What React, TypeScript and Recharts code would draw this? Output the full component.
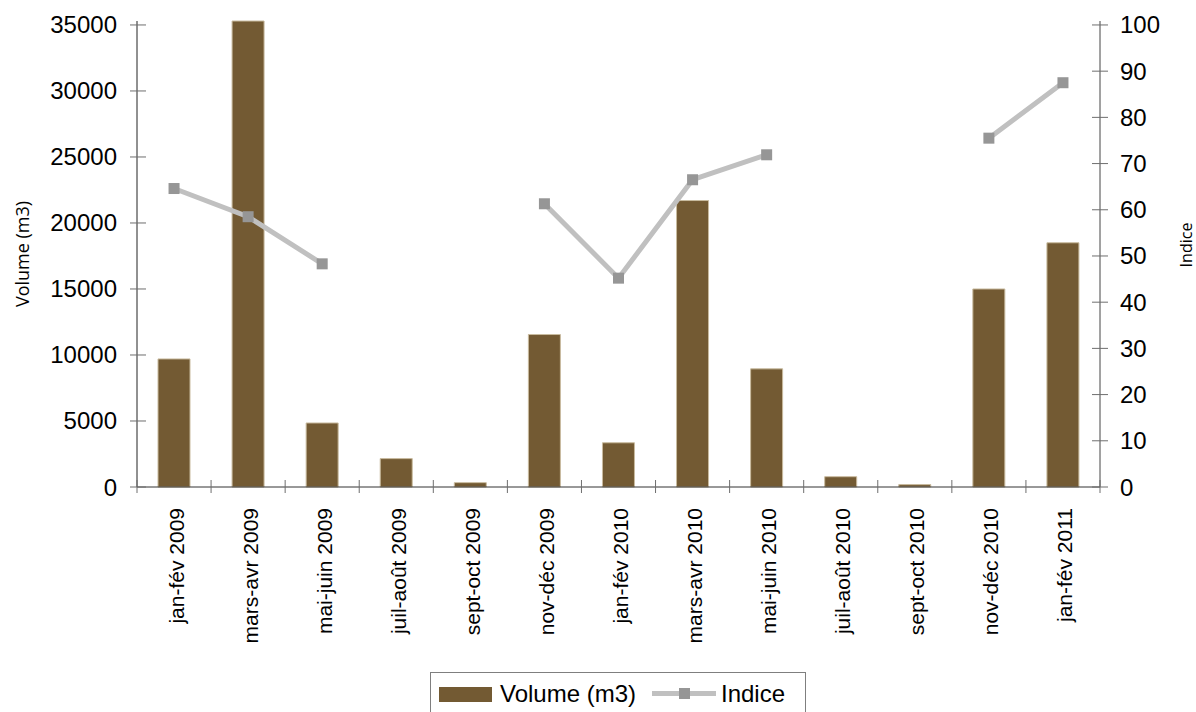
import React from 'react';
import { ComposedChart, Bar, Line, XAxis, YAxis, Legend } from 'recharts';

const categories = [
  'jan-fév 2009', 'mars-avr 2009', 'mai-juin 2009', 'juil-août 2009', 'sept-oct 2009',
  'nov-déc 2009', 'jan-fév 2010', 'mars-avr 2010', 'mai-juin 2010', 'juil-août 2010',
  'sept-oct 2010', 'nov-déc 2010', 'jan-fév 2011',
];
const volume = [9700, 35300, 4850, 2150, 330, 11550, 3350, 21700, 8950, 780, 180, 15000, 18500];
const indice: (number | null)[] = [64.6, 58.5, 48.3, null, null, 61.3, 45.2, 66.5, 71.9, null, null, 75.5, 87.5];
const volumeTicks = [0, 5000, 10000, 15000, 20000, 25000, 30000, 35000];
const indiceTicks = [0, 10, 20, 30, 40, 50, 60, 70, 80, 90, 100];

const VOLUME_NAME = 'Volume (m3)';
const INDICE_NAME = 'Indice';
const VOLUME_MAX = 35300;
const VOLUME_TOP_TICK = 35000;
const INDICE_MAX = (100 * VOLUME_MAX) / VOLUME_TOP_TICK;

const BAR_COLOR = '#735A33';
const LINE_COLOR = '#C0C0C0';
const MARKER_COLOR = '#969696';
const FONT = '"Liberation Sans", Arial, sans-serif';

const data = categories.map((c, i) => ({ cat: c, volume: volume[i], indice: indice[i] }));

const LeftTick = (props: any) => {
  const { x, y, payload } = props;
  return (
    <g>
      <line x1={x - 7} x2={x + 9} y1={y} y2={y} stroke="#6e6e6e" strokeWidth={1} />
      <text x={x - 20} y={y} textAnchor="end" dominantBaseline="central" fontSize={24} fontFamily={FONT} fill="#000">
        {payload.value}
      </text>
    </g>
  );
};

const RightTick = (props: any) => {
  const { x, y, payload } = props;
  return (
    <g>
      <line x1={x - 8} x2={x + 8} y1={y} y2={y} stroke="#6e6e6e" strokeWidth={1} />
      <text x={x + 20} y={y} textAnchor="start" dominantBaseline="central" fontSize={24} fontFamily={FONT} fill="#000">
        {payload.value}
      </text>
    </g>
  );
};

const XTick = (props: any) => {
  const { x, y, payload, index, width, visibleTicksCount } = props;
  const count = visibleTicksCount || categories.length;
  const band = (width || 963) / count;
  return (
    <g>
      <line x1={x - band / 2} x2={x - band / 2} y1={y - 7} y2={y + 6} stroke="#6e6e6e" strokeWidth={1} />
      {index === count - 1 && (
        <line x1={x + band / 2} x2={x + band / 2} y1={y - 7} y2={y + 6} stroke="#6e6e6e" strokeWidth={1} />
      )}
      <text
        transform={`translate(${x + 2},${y + 21}) rotate(-90)`}
        textAnchor="end"
        dominantBaseline="central"
        fontSize={21}
        fontFamily={FONT}
        fill="#000"
      >
        {payload.value}
      </text>
    </g>
  );
};

const SquareDot = (props: any) => {
  const { cx, cy, index, value } = props;
  if (value == null || cy == null || isNaN(cy)) return <g key={`d-${index}`} />;
  return <rect key={`d-${index}`} x={cx - 5.5} y={cy - 5.5} width={11} height={11} fill={MARKER_COLOR} />;
};

const LeftLabel = (props: any) => {
  const vb = props.viewBox || {};
  const cx = (vb.x || 0) + 22;
  const cy = (vb.y || 0) + (vb.height || 0) / 2;
  return (
    <text
      transform={`translate(${cx},${cy}) rotate(-90)`}
      textAnchor="middle"
      dominantBaseline="central"
      fontSize={18}
      fontFamily='"Open Sans", sans-serif'
      fill="#000"
    >
      {VOLUME_NAME}
    </text>
  );
};

const RightLabel = (props: any) => {
  const vb = props.viewBox || {};
  const cx = (vb.x || 0) + 86;
  const cy = (vb.y || 0) + (vb.height || 0) / 2 - 9;
  return (
    <text
      transform={`translate(${cx},${cy}) rotate(-90)`}
      textAnchor="middle"
      dominantBaseline="central"
      fontSize={16}
      fontFamily='"Open Sans", sans-serif'
      fill="#000"
    >
      {INDICE_NAME}
    </text>
  );
};

const renderLegend = () => (
  <div style={{ width: 376, height: 46, border: '1px solid #7f7f7f', boxSizing: 'border-box', background: '#fff' }}>
    <svg width={374} height={44} style={{ display: 'block' }}>
      <rect x={8} y={14} width={53} height={15} fill={BAR_COLOR} />
      <text x={69} y={29} fontSize={24} fontFamily={FONT} fill="#000">{VOLUME_NAME}</text>
      <line x1={221} x2={285} y1={20.5} y2={20.5} stroke={LINE_COLOR} strokeWidth={5} />
      <rect x={248} y={15} width={11} height={11} fill={MARKER_COLOR} />
      <text x={290} y={29} fontSize={24} fontFamily={FONT} fill="#000">{INDICE_NAME}</text>
    </svg>
  </div>
);

export default function App() {
  return (
    <div style={{ position: 'absolute', left: 0, top: 0, width: 1196, height: 712, background: '#fff', overflow: 'hidden' }}>
      <ComposedChart width={1196} height={712} data={data} margin={{ top: 21, right: 0, bottom: 0, left: 0 }}>
        <XAxis
          dataKey="cat"
          height={225}
          interval={0}
          tickSize={0}
          tickMargin={0}
          tickLine={false}
          axisLine={{ stroke: '#333', strokeWidth: 1 }}
          tick={<XTick />}
        />
        <YAxis
          yAxisId="left"
          orientation="left"
          width={137}
          domain={[0, VOLUME_MAX]}
          ticks={volumeTicks}
          interval={0}
          tickSize={0}
          tickMargin={0}
          tickLine={false}
          axisLine={{ stroke: '#222', strokeWidth: 1 }}
          tick={<LeftTick />}
          label={<LeftLabel />}
        />
        <YAxis
          yAxisId="right"
          orientation="right"
          width={96}
          domain={[0, INDICE_MAX]}
          ticks={indiceTicks}
          interval={0}
          tickSize={0}
          tickMargin={0}
          tickLine={false}
          axisLine={{ stroke: '#444', strokeWidth: 1 }}
          tick={<RightTick />}
          label={<RightLabel />}
        />
        <Legend
          verticalAlign="middle"
          align="center"
          layout="horizontal"
          wrapperStyle={{ top: 672, left: 430, width: 376, height: 46 }}
          content={renderLegend}
        />
        <Bar
          yAxisId="left"
          dataKey="volume"
          name={VOLUME_NAME}
          fill={BAR_COLOR}
          stroke="#c9bb9f"
          strokeWidth={1}
          barSize={32}
          isAnimationActive={false}
        />
        <Line
          yAxisId="right"
          dataKey="indice"
          name={INDICE_NAME}
          stroke={LINE_COLOR}
          strokeWidth={5}
          connectNulls={false}
          dot={SquareDot}
          activeDot={false}
          isAnimationActive={false}
        />
      </ComposedChart>
    </div>
  );
}
